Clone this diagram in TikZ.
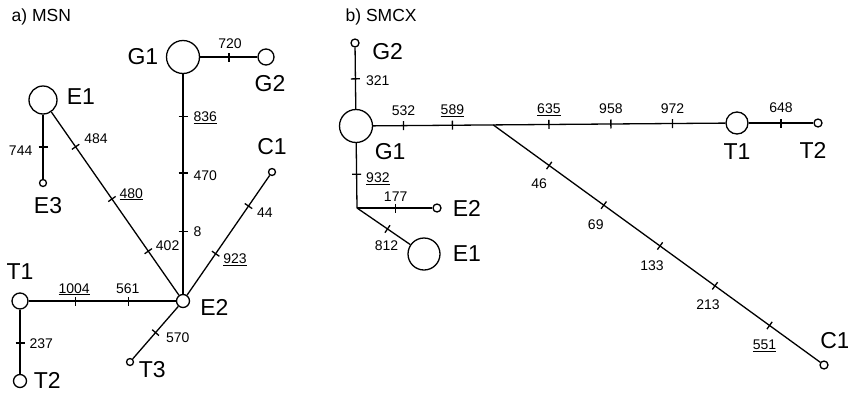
\documentclass[tikz,border=0pt]{standalone}
\usepackage{fontspec}
\setmainfont{Liberation Sans}
\usetikzlibrary{positioning,decorations.markings}

\tikzset{
  hap/.style={circle, draw, fill=white, inner sep=0pt, minimum size=#1},
  tickat/.style={postaction={decorate, decoration={markings,
      mark=at position #1 with {\draw (0pt,-4.5pt) -- (0pt,4.5pt);}}}},
  num/.style={font=\fontsize{14}{16}\selectfont, inner sep=1pt, anchor=base},
  lbl/.style={font=\fontsize{23}{25}\selectfont, inner sep=1pt},
  ttl/.style={font=\fontsize{17.5}{20}\selectfont, inner sep=0pt, anchor=base west}
}

\begin{document}
\begin{tikzpicture}[x=1pt, y=-1pt, line width=1.3pt]
    \useasboundingbox (0,0) rectangle (848,394);

    % a) MSN
    \node[ttl] (ta) at (11,21) {a) MSN};
    \node[hap=33pt] (aG1) at (183,57) {};
    \node[hap=16pt] (aG2) at (266,57) {};
    \node[hap=28pt] (aE1) at (43,100) {};
    \node[hap=7pt] (aE3) at (43,183) {};
    \node[hap=13pt] (aE2) at (183,301) {};
    \node[hap=7pt] (aC1) at (272,172) {};
    \node[hap=16pt] (aT1) at (20,301) {};
    \node[hap=13pt] (aT2) at (20,381) {};
    \node[hap=7pt] (aT3) at (130,362) {};

    \node[lbl, left=6pt of aG1] (laG1) {G1};
    \node[lbl, below=8pt of aG2, xshift=4pt] (laG2) {G2};
    \node[lbl, right=7.5pt of aE1, yshift=3pt] (laE1) {E1};
    \node[lbl, below=9pt of aE3, xshift=5pt] (laE3) {E3};
    \node[lbl, right=8.5pt of aE2, yshift=-6pt] (laE2) {E2};
    \node[lbl, above=11pt of aC1] (laC1) {C1};
    \node[lbl, above=11pt of aT1] (laT1) {T1};
    \node[lbl, right=5pt of aT2, yshift=1pt] (laT2) {T2};
    \node[lbl, right=3pt of aT3, yshift=-8pt] (laT3) {T3};

    \draw[tickat=.504] (aG1) -- node[pos=.504, num, xshift=1pt, yshift=9pt] {720} (aG2);
    \draw[tickat=.504] (aE1) -- node[pos=.504, num, anchor=base east, xshift=-9pt, yshift=-8pt] {744} (aE3);
    \draw[tickat=.19, tickat=.475, tickat=.76] (aE1) --
        node[pos=.19, num, anchor=base west, xshift=7pt, yshift=3pt] {484}
        node[pos=.475, num, anchor=base west, xshift=6pt, yshift=1pt] {\underline{480}}
        node[pos=.76, num, anchor=base west, xshift=6pt, yshift=1pt] {402} (aE2);
    \draw[tickat=.192, tickat=.45, tickat=.717] (aG1) --
        node[pos=.192, num, anchor=base west, xshift=9pt, yshift=-5.5pt] {\underline{836}}
        node[pos=.45, num, anchor=base west, xshift=9pt, yshift=-7pt] {470}
        node[pos=.717, num, anchor=base west, xshift=9pt, yshift=-5pt] {8} (aE2);
    \draw[tickat=.346, tickat=.744] (aE2) --
        node[pos=.346, num, anchor=base west, xshift=6pt, yshift=-10pt] {\underline{923}}
        node[pos=.744, num, anchor=base west, xshift=7pt, yshift=-11pt] {44} (aC1);
    \draw[tickat=.316, tickat=.68] (aT1) --
        node[pos=.316, num, xshift=-1pt, yshift=8pt] {\underline{1004}}
        node[pos=.68, num, xshift=-1pt, yshift=8pt] {561} (aE2);
    \draw[tickat=.52] (aT1) -- node[pos=.52, num, anchor=base west, xshift=8pt, yshift=-5pt] {237} (aT2);
    \draw[tickat=.5] (aE2) -- node[pos=.5, num, anchor=base west, xshift=9pt, yshift=-10pt] {570} (aT3);

    % b) SMCX
    \node[ttl] (tb) at (345,21) {b) SMCX};
    \node[hap=8pt] (bG2) at (355,43) {};
    \node[hap=33pt] (bG1) at (356,126) {};
    \node[hap=22pt] (bT1) at (737,123) {};
    \node[hap=8pt] (bT2) at (818,123) {};
    \node[hap=8pt] (bC1) at (824,365) {};
    \node[hap=8pt] (bE2) at (437,208) {};
    \node[hap=32pt] (bE1) at (424,254) {};
    \coordinate (bJ) at (357,208);

    \node[lbl, right=11pt of bG2, yshift=-9pt] (lbG2) {G2};
    \node[lbl, right=0pt of bG1, yshift=-26pt] (lbG1) {G1};
    \node[lbl, below=7pt of bT1] (lbT1) {T1};
    \node[lbl, below=13pt of bT2, xshift=-5pt] (lbT2) {T2};
    \node[lbl, above=9.5pt of bC1, xshift=11pt] (lbC1) {C1};
    \node[lbl, right=9.5pt of bE2] (lbE2) {E2};
    \node[lbl, right=10.5pt of bE1] (lbE1) {E1};

    \draw[tickat=.51] (bG2) -- node[pos=.51, num, anchor=base west, xshift=9pt, yshift=-7pt] {321} (bG1);
    \draw[tickat=.086, tickat=.225, tickat=.499, tickat=.675, tickat=.85] (bG1) --
        node[pos=.086, num, yshift=10.5pt] {532}
        node[pos=.225, num, yshift=10.5pt] {\underline{589}}
        coordinate[pos=.341] (bX)
        node[pos=.499, num, yshift=10.5pt] {\underline{635}}
        node[pos=.675, num, yshift=10.5pt] {958}
        node[pos=.85, num, yshift=10.5pt] {972} (bT1);
    \draw[tickat=.5] (bT1) -- node[pos=.5, num, yshift=10.5pt] {648} (bT2);
    \draw[tickat=.171, tickat=.338, tickat=.51, tickat=.678, tickat=.845] (bX) --
        node[pos=.171, num, xshift=-10pt, yshift=-23pt] {46}
        node[pos=.338, num, xshift=-8pt, yshift=-24pt] {69}
        node[pos=.51, num, xshift=-8pt, yshift=-25pt] {133}
        node[pos=.678, num, xshift=-7pt, yshift=-24pt] {213}
        node[pos=.845, num, xshift=-5pt, yshift=-24pt] {\underline{551}} (bC1);
    \draw[tickat=.48] (bG1) -- node[pos=.48, num, anchor=base west, xshift=8pt, yshift=-8pt] {\underline{932}} (bJ);
    \draw[tickat=.513] (bJ) -- node[pos=.513, num, yshift=7pt] {177} (bE2);
    \draw[tickat=.573] (bJ) -- node[pos=.573, num, xshift=-1pt, yshift=-22pt] {812} (bE1);
\end{tikzpicture}
\end{document}
